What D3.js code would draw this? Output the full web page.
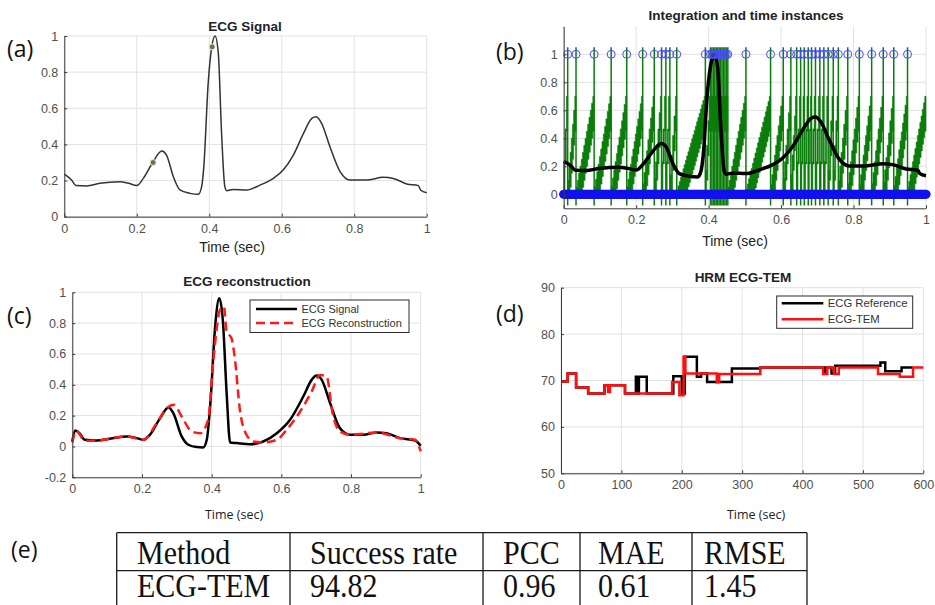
<!DOCTYPE html>
<html>
<head>
<meta charset="utf-8">
<script src="https://cdn.jsdelivr.net/npm/d3@7"></script>
<style>
  body { margin: 0; background: #fff; }
</style>
</head>
<body>
<svg id="fig" width="935" height="605"></svg>
<script>
// ---- (a)/(b) ECG signal
const ecgTime = [0, 0.02, 0.032, 0.062, 0.098, 0.154, 0.177, 0.2, 0.218, 0.244,
  0.269, 0.282, 0.301, 0.319, 0.347, 0.37, 0.379, 0.385, 0.397, 0.407,
  0.416, 0.425, 0.434, 0.443, 0.448, 0.466, 0.503, 0.54, 0.577, 0.604,
  0.632, 0.66, 0.683, 0.695, 0.71, 0.733, 0.761, 0.788, 0.834, 0.88,
  0.908, 0.945, 0.977, 0.983, 1.0];
const ecgValue = [0.236, 0.203, 0.172, 0.170, 0.185, 0.194, 0.185, 0.173, 0.212, 0.30,
  0.363, 0.341, 0.221, 0.148, 0.129, 0.124, 0.166, 0.277, 0.738, 0.941,
  1.0, 0.904, 0.461, 0.166, 0.144, 0.151, 0.148, 0.175, 0.212, 0.258,
  0.341, 0.461, 0.544, 0.553, 0.517, 0.387, 0.249, 0.203, 0.203, 0.218,
  0.212, 0.181, 0.172, 0.148, 0.133];
const markTime = [0.245, 0.408];
const markValue = [0.30, 0.94];

// ---- (b) firing time instances of the integrator
const fireTimes = [0.011, 0.034, 0.084, 0.131, 0.174, 0.218, 0.250, 0.270, 0.282, 0.293,
  0.312, 0.391, 0.405, 0.409, 0.413, 0.417, 0.421, 0.425, 0.429, 0.433,
  0.437, 0.441, 0.445, 0.449, 0.453, 0.503, 0.571, 0.606, 0.627, 0.643,
  0.654, 0.664, 0.675, 0.684, 0.695, 0.707, 0.718, 0.730, 0.744, 0.758,
  0.784, 0.816, 0.850, 0.882, 0.911, 0.949];
const rampTop = 0.7;     // integrator level just before firing
const spikeTop = 1.05;
const spikeBottom = -0.08;

// ---- (c) reconstruction
const recSigTime = [0, 0.008, 0.022, 0.036, 0.07, 0.108, 0.156, 0.185, 0.204, 0.223,
  0.252, 0.276, 0.29, 0.314, 0.333, 0.357, 0.376, 0.386, 0.397, 0.41,
  0.422, 0.432, 0.443, 0.453, 0.472, 0.51, 0.548, 0.587, 0.625, 0.663,
  0.687, 0.701, 0.716, 0.74, 0.768, 0.797, 0.835, 0.874, 0.902, 0.941,
  0.984, 1.0];
const recSigValue = [0.032, 0.104, 0.082, 0.043, 0.039, 0.05, 0.065, 0.054, 0.043, 0.076,
  0.184, 0.253, 0.216, 0.065, 0.011, -0.004, -0.006, 0.043, 0.302, 0.778,
  0.961, 0.821, 0.346, 0.026, 0.022, 0.015, 0.032, 0.086, 0.173, 0.324,
  0.432, 0.46, 0.432, 0.281, 0.119, 0.076, 0.076, 0.091, 0.086, 0.054,
  0.039, 0.004];
const recTime = [0, 0.011, 0.036, 0.07, 0.156, 0.204, 0.242, 0.271, 0.292, 0.314,
  0.343, 0.367, 0.39, 0.405, 0.424, 0.435, 0.443, 0.457, 0.467, 0.481,
  0.5, 0.52, 0.548, 0.587, 0.615, 0.654, 0.687, 0.711, 0.73, 0.747,
  0.768, 0.797, 0.874, 0.941, 0.984, 1.0];
const recValue = [0.026, 0.104, 0.037, 0.039, 0.065, 0.043, 0.151, 0.248, 0.27, 0.194,
  0.097, 0.086, 0.173, 0.562, 0.886, 0.907, 0.745, 0.702, 0.562, 0.238,
  0.076, 0.032, 0.026, 0.043, 0.108, 0.227, 0.356, 0.464, 0.454, 0.216,
  0.097, 0.076, 0.091, 0.054, 0.043, -0.032];

// ---- (d) heart rate (step changes)
const refTime = [0, 11, 25, 45, 72, 106, 124, 127, 129, 142, 186, 200, 205, 225, 232,
  242, 283, 330, 435, 438, 448, 454, 529, 537, 564, 583];
const refBpm = [69.8, 71.5, 68.5, 67.2, 69.0, 67.2, 70.8, 67.2, 70.8, 67.2, 70.9, 67.2, 75.1, 70.8, 71.5,
  69.7, 72.6, 72.8, 71.5, 72.8, 71.5, 73.2, 73.9, 72.0, 72.8, 72.8];
const temTime = [0, 11, 25, 45, 72, 78, 81, 106, 184, 196, 203, 206, 258, 262, 330,
  434, 441, 452, 460, 525, 561, 583, 600];
const temBpm = [69.8, 71.5, 68.5, 67.2, 69.0, 67.5, 69.0, 67.2, 69.7, 66.8, 75.1, 71.5, 69.6, 71.4, 72.8,
  71.4, 72.8, 71.4, 72.8, 71.4, 70.8, 72.8, 72.8];

// ---- (e) table
const tableHeader = ['Method', 'Success rate', 'PCC', 'MAE', 'RMSE'];
const tableRow = ['ECG-TEM', '94.82', '0.96', '0.61', '1.45'];

const unitTicks = [0, 0.2, 0.4, 0.6, 0.8, 1];

const svg = d3.select('#fig');
svg.append('rect').attr('width', 935).attr('height', 605).attr('fill', '#fff');

const fmt = d => String(+d.toFixed(2));

function panel(o) {
    const g = svg.append('g');
    const x = d3.scaleLinear().domain(o.xDomain).range(o.xRange);
    const y = d3.scaleLinear().domain(o.yDomain).range(o.yRange);

    // grid
    g.selectAll('.vgrid').data(o.xTicks).enter().append('line')
        .attr('x1', d => x(d)).attr('x2', d => x(d))
        .attr('y1', o.yRange[0]).attr('y2', o.yRange[1])
        .attr('stroke', '#e2e2e2').attr('stroke-width', 1);
    g.selectAll('.hgrid').data(o.yTicks).enter().append('line')
        .attr('x1', o.xRange[0]).attr('x2', o.xRange[1])
        .attr('y1', d => y(d)).attr('y2', d => y(d))
        .attr('stroke', '#e2e2e2').attr('stroke-width', 1);

    const plot = g.append('g');

    // axes
    const ax = g.append('g')
        .attr('transform', `translate(0,${o.yRange[0]})`)
        .call(d3.axisBottom(x).tickValues(o.xTicks).tickFormat(fmt).tickSize(-3).tickSizeOuter(0).tickPadding(7));
    const ay = g.append('g')
        .attr('transform', `translate(${o.xRange[0]},0)`)
        .call(d3.axisLeft(y).tickValues(o.yTicks).tickFormat(fmt).tickSize(-3).tickSizeOuter(0).tickPadding(6));
    [ax, ay].forEach(a => {
        a.select('.domain').attr('stroke', '#3a3a3a');
        a.selectAll('.tick line').attr('stroke', '#3a3a3a');
        a.selectAll('.tick text').attr('fill', '#505050')
            .attr('font-family', 'Liberation Sans, Arial, sans-serif')
            .attr('font-size', o.tickFont || 12.5);
    });

    // title
    g.append('text').text(o.title)
        .attr('x', o.titleX).attr('y', o.titleY)
        .attr('text-anchor', 'middle')
        .attr('font-family', 'Liberation Sans, Arial, sans-serif')
        .attr('font-weight', 'bold').attr('font-size', 13.5).attr('fill', '#222');

    // x label
    g.append('text').text('Time (sec)')
        .attr('x', o.labelX).attr('y', o.labelY)
        .attr('text-anchor', 'middle')
        .attr('font-family', o.labelFamily)
        .attr('font-size', o.labelSize).attr('fill', '#222');

    // panel letter
    svg.append('text').text(o.letter)
        .attr('x', o.letterX).attr('y', o.letterY)
        .attr('font-family', 'Open Sans, Noto Sans, sans-serif')
        .attr('font-size', 23).attr('fill', '#111');

    return { plot, x, y };
}

// ================= (a)
{
    const { plot, x, y } = panel({
        xDomain: [0, 1], xRange: [64.3, 426.7], yDomain: [0, 1], yRange: [216.7, 36],
        xTicks: unitTicks, yTicks: unitTicks,
        title: 'ECG Signal', titleX: 245, titleY: 31,
        labelX: 232, labelY: 252, labelFamily: 'Liberation Sans, Arial, sans-serif', labelSize: 14,
        letter: '(a)', letterX: 7, letterY: 57
    });
    const line = d3.line().x(d => x(d[0])).y(d => y(d[1])).curve(d3.curveMonotoneX);
    plot.append('path').datum(d3.zip(ecgTime, ecgValue))
        .attr('d', line).attr('fill', 'none').attr('stroke', '#333').attr('stroke-width', 1.5);
    plot.selectAll('.mk').data(d3.zip(markTime, markValue)).enter().append('circle')
        .attr('cx', d => x(d[0])).attr('cy', d => y(d[1])).attr('r', 3)
        .attr('fill', '#6e6e62').attr('stroke', '#ecebb8').attr('stroke-width', 1);
}

// ================= (b)
{
    const { plot, x, y } = panel({
        xDomain: [0, 1], xRange: [563.7, 926], yDomain: [-0.1, 1.2], yRange: [208.3, 26.3],
        xTicks: unitTicks, yTicks: unitTicks,
        title: 'Integration and time instances', titleX: 746, titleY: 20,
        labelX: 735, labelY: 246, labelFamily: 'Liberation Sans, Arial, sans-serif', labelSize: 14,
        letter: '(b)', letterX: 496, letterY: 60
    });
    // sawtooth of the integrator between consecutive firings, drawn as stairs
    const bounds = [0, ...fireTimes, 1];
    const band = 0.25, stepDt = 0.0035;
    const ramps = d3.pairs(bounds).map(([t0, t1]) => {
        const n = Math.max(1, Math.round((t1 - t0) / stepDt));
        const up = [], lo = [];
        for (let j = 0; j < n; j++) {
            const ta = t0 + (t1 - t0) * j / n, tb = t0 + (t1 - t0) * (j + 1) / n;
            const v = rampTop * (j + 1) / n;
            up.push([ta, v], [tb, v]);
            const w = Math.max(-0.03, v - band);
            lo.push([ta, w], [tb, w]);
        }
        return up.concat(lo.reverse());
    });
    plot.selectAll('.ramp').data(ramps).enter().append('path')
        .attr('d', d => 'M' + d.map(p => [x(p[0]), y(p[1])].join(',')).join('L') + 'Z')
        .attr('fill', '#0a7d0a').attr('stroke', '#0a7d0a').attr('stroke-width', 0.6);
    plot.selectAll('.spike').data(fireTimes).enter().append('line')
        .attr('x1', d => x(d)).attr('x2', d => x(d))
        .attr('y1', y(spikeBottom)).attr('y2', y(spikeTop))
        .attr('stroke', '#0a7d0a').attr('stroke-width', 1.5);

    const line = d3.line().x(d => x(d[0])).y(d => y(d[1])).curve(d3.curveMonotoneX);
    plot.append('path').datum(d3.zip(ecgTime, ecgValue))
        .attr('d', line).attr('fill', 'none').attr('stroke', '#000').attr('stroke-width', 3.5);

    // sampling grid at level 0
    const sampleTimes = d3.range(0, 1.0001, 0.004);
    plot.selectAll('.smp').data(sampleTimes).enter().append('circle')
        .attr('cx', d => x(d)).attr('cy', y(0)).attr('r', 4.6)
        .attr('fill', '#1010f0');
    plot.selectAll('.fire').data(fireTimes).enter().append('circle')
        .attr('cx', d => x(d)).attr('cy', y(1)).attr('r', 4)
        .attr('fill', 'none').attr('stroke', '#4a4aff').attr('stroke-width', 1);
}

// ================= (c)
{
    const { plot, x, y } = panel({
        xDomain: [0, 1], xRange: [72.3, 420.7], yDomain: [-0.2, 1], yRange: [477.3, 292.3],
        xTicks: unitTicks, yTicks: [-0.2, 0, 0.2, 0.4, 0.6, 0.8, 1],
        title: 'ECG reconstruction', titleX: 247, titleY: 286,
        labelX: 234, labelY: 519, labelFamily: 'Open Sans, Noto Sans, sans-serif', labelSize: 12.5,
        letter: '(c)', letterX: 7, letterY: 324
    });
    const line = d3.line().x(d => x(d[0])).y(d => y(d[1])).curve(d3.curveMonotoneX);
    plot.append('path').datum(d3.zip(recSigTime, recSigValue))
        .attr('d', line).attr('fill', 'none').attr('stroke', '#000').attr('stroke-width', 2.5);
    plot.append('path').datum(d3.zip(recTime, recValue))
        .attr('d', line).attr('fill', 'none').attr('stroke', '#ff1a1a').attr('stroke-width', 2.5)
        .attr('stroke-dasharray', '9,5');

    const lg = svg.append('g');
    lg.append('rect').attr('x', 250).attr('y', 300).attr('width', 159).attr('height', 32.5)
        .attr('fill', '#fff').attr('stroke', '#2a2a2a').attr('stroke-width', 1);
    const items = [['ECG Signal', '#000', null], ['ECG Reconstruction', '#ff1a1a', '9,5']];
    items.forEach((it, i) => {
        const yy = 309 + i * 14;
        lg.append('line').attr('x1', 256).attr('x2', 297).attr('y1', yy).attr('y2', yy)
            .attr('stroke', it[1]).attr('stroke-width', 2.5).attr('stroke-dasharray', it[2]);
        lg.append('text').text(it[0]).attr('x', 301.5).attr('y', yy + 4)
            .attr('font-family', 'Liberation Sans, Arial, sans-serif').attr('font-size', 11).attr('fill', '#333');
    });
}

// ================= (d)
{
    const { plot, x, y } = panel({
        xDomain: [0, 600], xRange: [561, 923.3], yDomain: [50, 90], yRange: [473.3, 287.7],
        xTicks: [0, 100, 200, 300, 400, 500, 600], yTicks: [50, 60, 70, 80, 90],
        title: 'HRM ECG-TEM', titleX: 743, titleY: 282,
        labelX: 756, labelY: 519, labelFamily: 'Open Sans, Noto Sans, sans-serif', labelSize: 12.5,
        letter: '(d)', letterX: 496, letterY: 322
    });
    const step = d3.line().x(d => x(d[0])).y(d => y(d[1])).curve(d3.curveStepAfter);
    plot.append('path').datum(d3.zip(refTime, refBpm))
        .attr('d', step).attr('fill', 'none').attr('stroke', '#000').attr('stroke-width', 2.5);
    plot.append('path').datum(d3.zip(temTime, temBpm))
        .attr('d', step).attr('fill', 'none').attr('stroke', '#ff1010').attr('stroke-width', 2.5);

    const lg = svg.append('g');
    lg.append('rect').attr('x', 776.7).attr('y', 296).attr('width', 136).attr('height', 32.3)
        .attr('fill', '#fff').attr('stroke', '#2a2a2a').attr('stroke-width', 1);
    [['ECG Reference', '#000'], ['ECG-TEM', '#ff1010']].forEach((it, i) => {
        const yy = 303.3 + i * 16;
        lg.append('line').attr('x1', 781.7).attr('x2', 823.3).attr('y1', yy).attr('y2', yy)
            .attr('stroke', it[1]).attr('stroke-width', 2.5);
        lg.append('text').text(it[0]).attr('x', 827.7).attr('y', yy + 4)
            .attr('font-family', 'Liberation Sans, Arial, sans-serif').attr('font-size', 11.3).attr('fill', '#333');
    });
}

// ================= (e) table
{
    const colX = [116.7, 290, 483, 580, 692, 807];
    const rowY = [532.7, 570.7, 610];
    const baseY = [563.5, 597];
    const tg = svg.append('g');
    rowY.slice(0, 2).forEach(yy => tg.append('line')
        .attr('x1', colX[0]).attr('x2', colX[colX.length - 1]).attr('y1', yy).attr('y2', yy)
        .attr('stroke', '#1a1a1a').attr('stroke-width', 1.3));
    colX.forEach(xx => tg.append('line')
        .attr('x1', xx).attr('x2', xx).attr('y1', rowY[0]).attr('y2', rowY[2])
        .attr('stroke', '#1a1a1a').attr('stroke-width', 1.3));
    const textX = [137, 310, 503, 598, 704];
    [tableHeader, tableRow].forEach((row, r) => {
        row.forEach((s, c) => {
            tg.append('text').text(s)
                .attr('transform', `translate(${textX[c]},${baseY[r]}) scale(1,1.1)`)
                .attr('font-family', 'Liberation Serif, Times New Roman, serif')
                .attr('font-size', 30).attr('fill', '#111');
        });
    });
    svg.append('text').text('(e)').attr('x', 11).attr('y', 558)
        .attr('font-family', 'Open Sans, Noto Sans, sans-serif')
        .attr('font-size', 23).attr('fill', '#111');
}
</script>
</body>
</html>
